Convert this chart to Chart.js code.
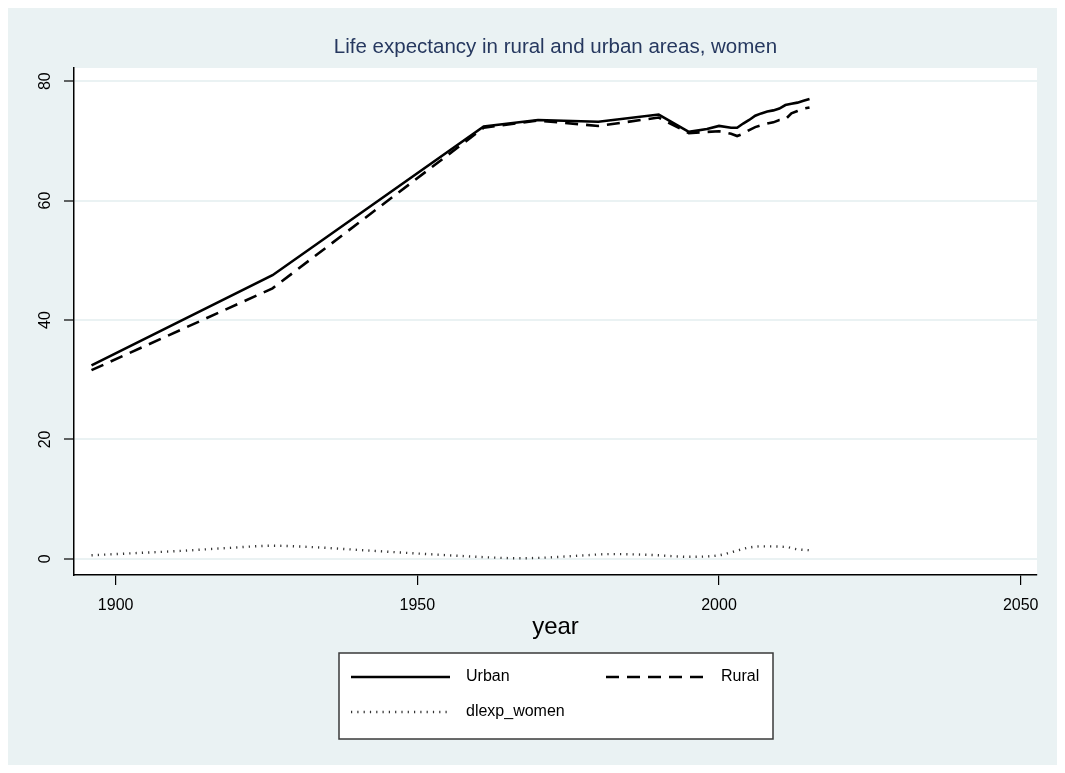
<!DOCTYPE html>
<html>
<head>
<meta charset="utf-8">
<title>Life expectancy in rural and urban areas, women</title>
<script src="https://cdn.jsdelivr.net/npm/chart.js@4/dist/chart.umd.min.js"></script>
<style>
  html, body { margin: 0; padding: 0; background: #ffffff; }
  canvas { display: block; }
</style>
</head>
<body>
<canvas id="chart" width="1065" height="773"></canvas>
<script>
// Survey years shared by the urban and rural series
const years = [1896, 1926, 1961, 1970, 1980, 1990, 1995, 1998, 2000, 2002, 2003, 2004,
               2005, 2006, 2007, 2008, 2009, 2010, 2011, 2012, 2013, 2014, 2015];
const urbanValues = [32.4, 47.5, 72.4, 73.5, 73.2, 74.4, 71.5, 72.0, 72.5, 72.2, 72.2, 72.9,
                     73.5, 74.2, 74.6, 74.9, 75.1, 75.4, 76.0, 76.2, 76.4, 76.7, 77.0];
const ruralValues = [31.6, 45.3, 72.2, 73.4, 72.5, 73.9, 71.3, 71.5, 71.6, 71.2, 70.8, 71.2,
                     71.8, 72.3, 72.6, 72.9, 73.1, 73.5, 73.6, 74.6, 75.0, 75.4, 75.6];

// Urban–rural gap
const gapYears = [1896, 1903, 1911, 1919, 1926, 1933, 1941, 1950, 1957, 1963, 1967, 1971,
                  1977, 1982, 1989, 1995, 2000, 2002, 2005, 2007, 2011, 2013, 2015];
const gapValues = [0.6, 0.95, 1.35, 1.85, 2.2, 1.95, 1.45, 0.9, 0.5, 0.2, 0.1, 0.2,
                   0.55, 0.8, 0.65, 0.35, 0.6, 1.1, 1.9, 2.1, 2.0, 1.6, 1.45];

const seriesLabels = ['Urban', 'Rural', 'dlexp_women'];
const xTicks = [1900, 1950, 2000, 2050];
const yTicks = [0, 20, 40, 60, 80];

const FONT = '"Liberation Sans", Arial, Helvetica, sans-serif';
const PANEL = '#eaf2f3';

function toPoints(xs, ys) {
  return xs.map((x, i) => ({ x: x, y: ys[i] }));
}

// Outer frame, shaded panel and white plot region
const backgroundPlugin = {
  id: 'panelBackground',
  beforeDraw(chart) {
    const { ctx, chartArea: a } = chart;
    ctx.save();
    ctx.fillStyle = '#ffffff';
    ctx.fillRect(0, 0, chart.width, chart.height);
    ctx.fillStyle = PANEL;
    ctx.fillRect(8, 8, chart.width - 16, chart.height - 16);
    ctx.fillStyle = '#ffffff';
    ctx.fillRect(a.left, a.top, a.right - a.left, a.bottom - a.top);
    ctx.restore();
  }
};

// Boxed key below the axis title: two columns, second row holds the gap series
const keyPlugin = {
  id: 'boxedKey',
  afterDraw(chart) {
    const { ctx } = chart;
    const box = { x: 339, y: 653, w: 434, h: 86 };
    ctx.save();
    ctx.fillStyle = '#ffffff';
    ctx.fillRect(box.x, box.y, box.w, box.h);
    ctx.strokeStyle = '#3a3a3a';
    ctx.lineWidth = 1.5;
    ctx.strokeRect(box.x, box.y, box.w, box.h);

    const slots = [
      { x: 351, y: 677 },
      { x: 606, y: 677 },
      { x: 351, y: 712 }
    ];
    chart.data.datasets.forEach((ds, i) => {
      const s = slots[i];
      ctx.beginPath();
      ctx.strokeStyle = ds.borderColor;
      ctx.lineWidth = ds.borderWidth;
      ctx.lineCap = 'butt';
      ctx.setLineDash(ds.borderDash || []);
      ctx.moveTo(s.x, s.y);
      ctx.lineTo(s.x + 99, s.y);
      ctx.stroke();
      ctx.setLineDash([]);
      ctx.fillStyle = '#000000';
      ctx.font = '16px ' + FONT;
      ctx.textAlign = 'left';
      ctx.textBaseline = 'middle';
      ctx.fillText(ds.label, s.x + 115, s.y);
    });
    ctx.restore();
  }
};

new Chart(document.getElementById('chart'), {
  type: 'line',
  data: {
    datasets: [
      {
        label: seriesLabels[0],
        data: toPoints(years, urbanValues),
        borderColor: '#000000',
        borderWidth: 2.6,
        pointRadius: 0,
        tension: 0
      },
      {
        label: seriesLabels[1],
        data: toPoints(years, ruralValues),
        borderColor: '#000000',
        borderWidth: 2.6,
        borderDash: [13, 8],
        pointRadius: 0,
        tension: 0
      },
      {
        label: seriesLabels[2],
        data: toPoints(gapYears, gapValues),
        borderColor: '#333333',
        borderWidth: 2.4,
        borderDash: [1.2, 5.1],
        pointRadius: 0,
        cubicInterpolationMode: 'monotone'
      }
    ]
  },
  options: {
    responsive: false,
    animation: false,
    layout: { padding: { left: 0, right: 28, top: 0, bottom: 128 } },
    plugins: {
      legend: { display: false },
      tooltip: { enabled: false },
      title: {
        display: true,
        fullSize: false,
        text: 'Life expectancy in rural and urban areas, women',
        color: '#26385f',
        font: { family: FONT, size: 20.5, weight: 'normal' },
        padding: { top: 34.7, bottom: 8.7 }
      }
    },
    scales: {
      x: {
        type: 'linear',
        min: 1893.1,
        max: 2052.7,
        afterBuildTicks(scale) { scale.ticks = xTicks.map(v => ({ value: v })); },
        afterFit(scale) { scale.height = 70; },
        grid: { drawOnChartArea: false, color: '#000000', lineWidth: 1.2, tickLength: 10 },
        border: { display: true, color: '#000000', width: 1.5 },
        ticks: {
          color: '#000000',
          font: { family: FONT, size: 16 },
          padding: 11,
          maxRotation: 0,
          callback: v => String(v)
        },
        title: {
          display: true,
          text: 'year',
          color: '#000000',
          font: { family: FONT, size: 24 },
          padding: { top: 0, bottom: 3.5 }
        }
      },
      y: {
        type: 'linear',
        min: -2.7,
        max: 82.2,
        afterBuildTicks(scale) { scale.ticks = yTicks.map(v => ({ value: v })); },
        afterFit(scale) { scale.width = 74; },
        grid: { color: PANEL, lineWidth: 2, tickColor: '#000000', tickWidth: 1.2, tickLength: 10 },
        border: { display: true, color: '#000000', width: 1.5 },
        ticks: {
          color: '#000000',
          font: { family: FONT, size: 16 },
          padding: 10,
          minRotation: 90,
          maxRotation: 90,
          crossAlign: 'center',
          callback: v => String(v)
        }
      }
    }
  },
  plugins: [backgroundPlugin, keyPlugin]
});
</script>
</body>
</html>
